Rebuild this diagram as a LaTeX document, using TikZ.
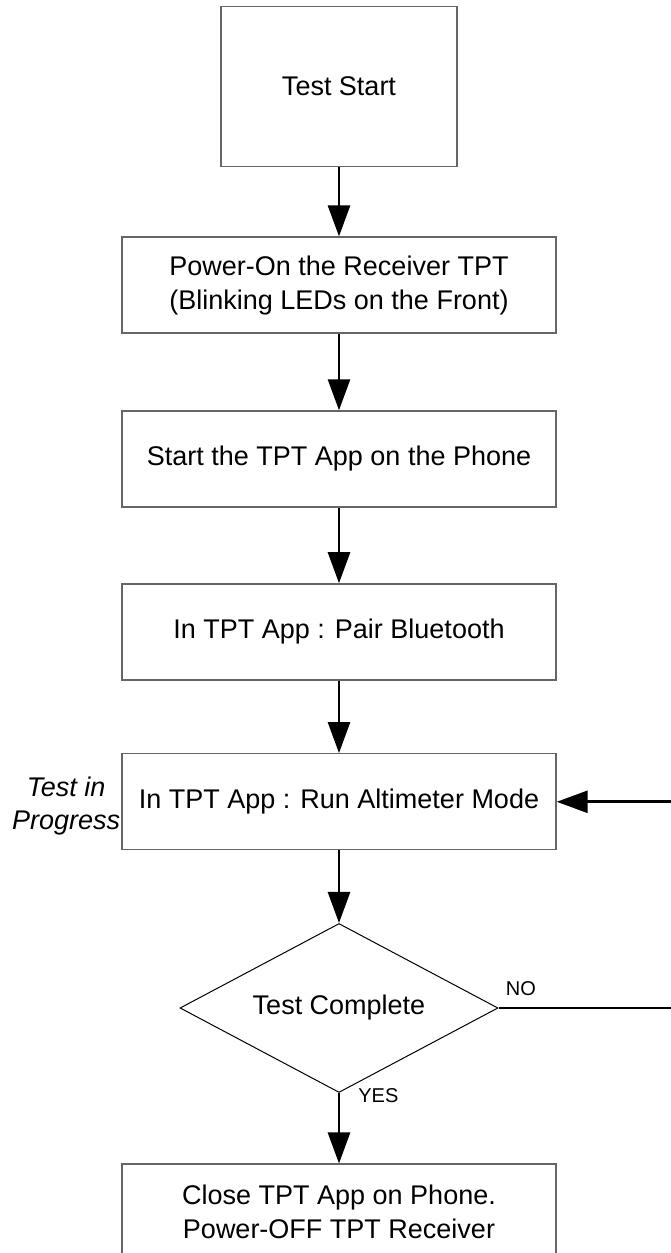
\documentclass[tikz,border=0pt]{standalone}
\usepackage{fontspec}
\setmainfont{Liberation Sans}
\usetikzlibrary{positioning,shapes.geometric,arrows.meta}

\begin{document}
\begin{tikzpicture}[>={Triangle[length=31pt,width=22pt]}, x=1pt, y=1pt]
        \tikzstyle{box} = [draw=black!60, line width=1.4pt, fill=white, rectangle,
            minimum height=96pt, minimum width=434pt, align=center,
            inner sep=0pt, font=\fontsize{27}{34}\selectfont]
        \tikzstyle{startBox} = [box, minimum height=160pt, minimum width=236pt]
        \tikzstyle{decision} = [draw=black, line width=1pt, diamond, aspect=1.88,
            minimum height=169pt, minimum width=318pt, inner sep=0pt,
            font=\fontsize{27}{34}\selectfont]
        \tikzstyle{flowEdge} = [black, line width=2.7pt, ->];
        \tikzstyle{edgeLabel} = [inner sep=0pt, font=\fontsize{20}{24}\selectfont];
        \tikzstyle{sideNote} = [align=center, inner sep=0pt,
            font=\itshape\fontsize{27}{33}\selectfont];
        \useasboundingbox (0,0) rectangle (670,1253);

        \node[startBox] (nodeStart) at (339,1166.3) {Test Start};
        \node[box, below=69pt of nodeStart] (nodePower)
            {Power-On the Receiver TPT\\(Blinking LEDs on the Front)};
        \node[box, below=76.5pt of nodePower] (nodeApp) {Start the TPT App on the Phone};
        \node[box, below=75.5pt of nodeApp] (nodePair) {In TPT App : Pair Bluetooth};
        \node[box, below=72.5pt of nodePair] (nodeRun) {In TPT App : Run Altimeter Mode};
        \node[decision, below=72.5pt of nodeRun] (nodeCheck) {Test Complete};
        \node[box, below=70.5pt of nodeCheck] (nodeClose)
            {Close TPT App on Phone.\\Power-OFF TPT Receiver};
        \node[sideNote, left=1pt of nodeRun, yshift=-4pt] (noteProgress) {Test in\\Progress};
        % the loop back runs just past the right edge
        \coordinate (loopRight) at (676,0);

        \draw (nodeStart) edge[flowEdge] (nodePower);
        \draw (nodePower) edge[flowEdge] (nodeApp);
        \draw (nodeApp) edge[flowEdge] (nodePair);
        \draw (nodePair) edge[flowEdge] (nodeRun);
        \draw (nodeRun) edge[flowEdge] (nodeCheck);
        \draw (nodeCheck) edge[flowEdge]
            node[edgeLabel, pos=0, anchor=west, xshift=18pt, yshift=-3pt]{YES}
            (nodeClose);
        \draw[flowEdge] (nodeCheck.east)
            -- node[edgeLabel, pos=0, anchor=south west, xshift=6pt, yshift=11pt]{NO}
            (nodeCheck.east -| loopRight) |- (nodeRun.east);
    \end{tikzpicture}
\end{document}
